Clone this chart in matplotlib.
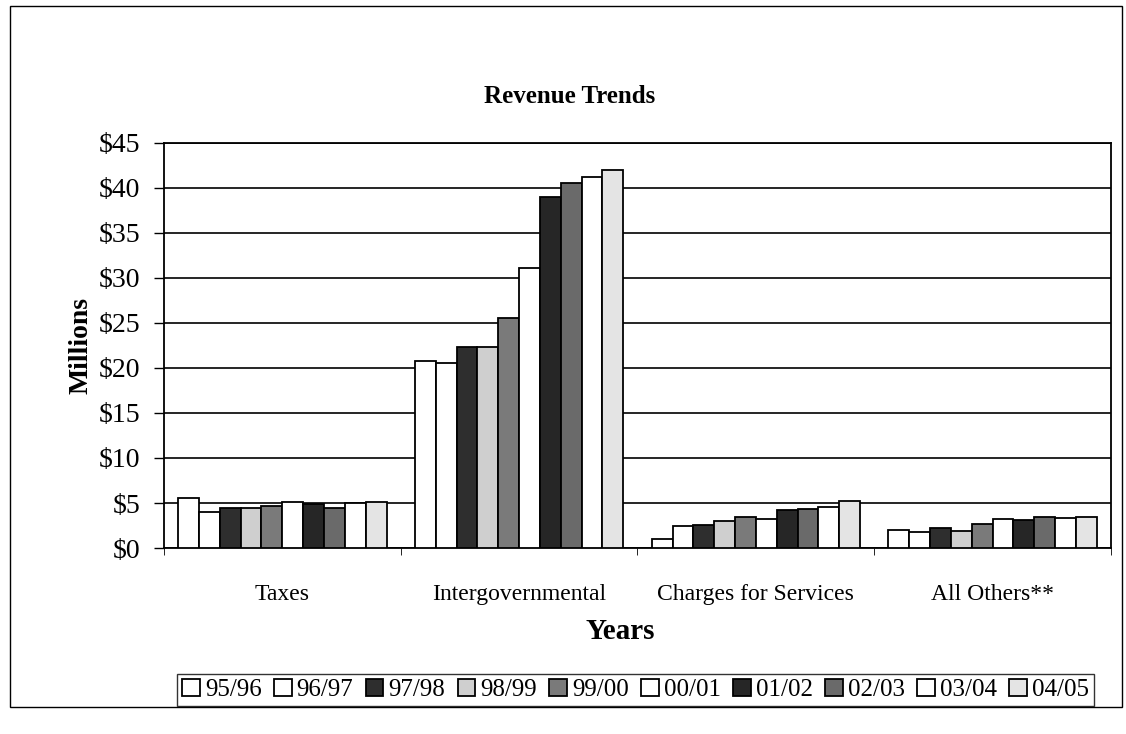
import matplotlib
matplotlib.use("Agg")
import matplotlib.pyplot as plt
from matplotlib.patches import Rectangle
import numpy as np

plt.rcParams["font.family"] = ["Liberation Serif", "DejaVu Serif"]

categories = ["Taxes", "Intergovernmental", "Charges for Services", "All Others**"]
years = ["95/96", "96/97", "97/98", "98/99", "99/00",
         "00/01", "01/02", "02/03", "03/04", "04/05"]

# revenue in millions, one list per fiscal year (Taxes, Intergov, Charges, Others)
rev_9596 = [5.6, 20.8, 1.0, 2.0]
rev_9697 = [4.0, 20.5, 2.4, 1.8]
rev_9798 = [4.5, 22.3, 2.6, 2.2]
rev_9899 = [4.4, 22.3, 3.0, 1.9]
rev_9900 = [4.7, 25.5, 3.5, 2.7]
rev_0001 = [5.1, 31.1, 3.2, 3.2]
rev_0102 = [4.9, 39.0, 4.2, 3.1]
rev_0203 = [4.5, 40.6, 4.3, 3.5]
rev_0304 = [5.0, 41.2, 4.6, 3.3]
rev_0405 = [5.1, 42.0, 5.2, 3.5]

series = [rev_9596, rev_9697, rev_9798, rev_9899, rev_9900,
          rev_0001, rev_0102, rev_0203, rev_0304, rev_0405]
fills = ["white", "white", "#2e2e2e", "#cfcfcf", "#7a7a7a",
         "white", "#262626", "#6a6a6a", "white", "#e4e4e4"]

fig = plt.figure(figsize=(11.26, 7.34), dpi=100)
ax = fig.add_axes([0.1456, 0.2534, 0.8411, 0.5518])

n = len(series)
width = 0.088
x = np.arange(len(categories))
handles = []
for i, (vals, col) in enumerate(zip(series, fills)):
    offs = (i - (n - 1) / 2) * width
    b = ax.bar(x + offs, vals, width=width, color=col, edgecolor="black",
               linewidth=1.3, zorder=3, label=years[i])
    handles.append(b)

ax.set_xlim(-0.5, len(categories) - 0.5)
ax.set_ylim(0, 45)
ax.set_yticks(np.arange(0, 50, 5))
ax.set_yticklabels([f"${v}" for v in range(0, 50, 5)], fontsize=20)
ax.yaxis.grid(True, color="black", linewidth=1.2, zorder=0)
ax.set_axisbelow(True)

# category labels centred, tick marks on group boundaries
ax.set_xticks(x)
ax.set_xticklabels(categories, fontsize=17)
ax.tick_params(axis="x", length=0, pad=26)
ax.set_xticks(np.arange(-0.5, len(categories)), minor=True)
ax.tick_params(axis="x", which="minor", length=5, direction="out")
ax.tick_params(axis="y", length=7, direction="out", width=1, pad=10)

for s in ax.spines.values():
    s.set_linewidth(1.3)

ax.set_ylabel("Millions", fontsize=20, fontweight="bold", labelpad=4)
ax.set_xlabel("Years", fontsize=21, fontweight="bold", labelpad=9)
ax.xaxis.label.set_x(0.4815)
fig.text(0.506, 0.868, "Revenue Trends", ha="center", va="center",
         fontsize=18, fontweight="bold")

leg = fig.legend(handles=handles, labels=years, loc="center", ncol=10,
                 bbox_to_anchor=(0.5644, 0.06), fontsize=18, frameon=True,
                 fancybox=False, handlelength=0.7, handleheight=0.7,
                 handletextpad=0.2, columnspacing=0.5, borderpad=0.2,
                 borderaxespad=0)
leg.get_frame().set_edgecolor("black")
leg.get_frame().set_linewidth(1.0)

# outer chart border
fig.patches.append(Rectangle((0.0089, 0.0368), 0.9875, 0.955, transform=fig.transFigure,
                             fill=False, edgecolor="black", linewidth=1.0))

fig.savefig("out.png", dpi=100, facecolor="white")
